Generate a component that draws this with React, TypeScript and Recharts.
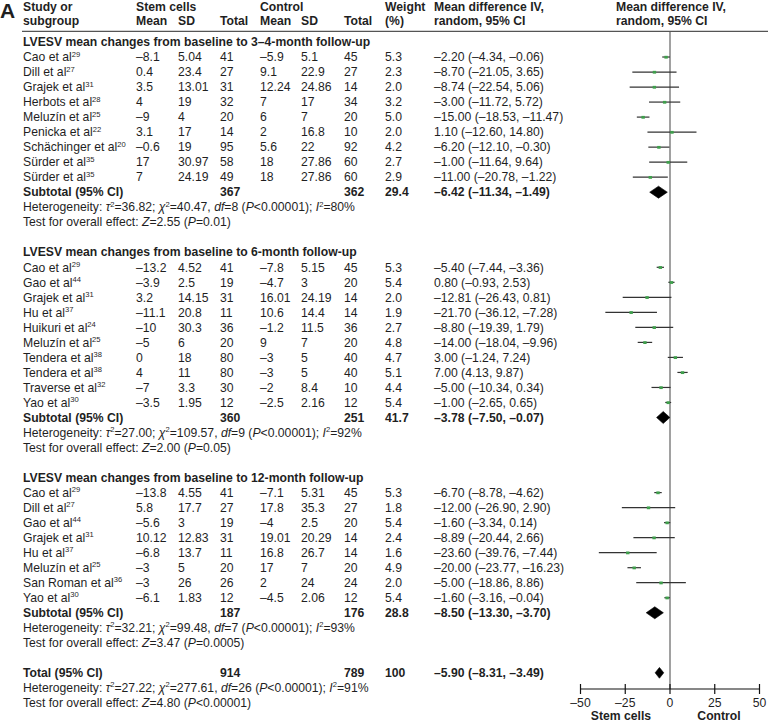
import React from 'react';
import { ScatterChart, Scatter, XAxis, YAxis, ReferenceLine, ErrorBar } from 'recharts';

// ---------------- DATA ----------------
const sectionTitles = [
  'LVESV mean changes from baseline to 3–4-month follow-up',
  'LVESV mean changes from baseline to 6-month follow-up',
  'LVESV mean changes from baseline to 12-month follow-up',
];

// Section 1: 3–4-month
const names1 = ['Cao et al', 'Dill et al', 'Grajek et al', 'Herbots et al', 'Meluzín et al', 'Penicka et al', 'Schächinger et al', 'Sürder et al', 'Sürder et al'];
const refs1 = [29, 27, 31, 28, 25, 22, 20, 35, 35];
const stemMean1 = [-8.1, 0.4, 3.5, 4, -9, 3.1, -0.6, 17, 7];
const stemSD1 = [5.04, 23.4, 13.01, 19, 4, 17, 19, 30.97, 24.19];
const stemN1 = [41, 27, 31, 32, 20, 14, 95, 58, 49];
const ctrlMean1 = [-5.9, 9.1, 12.24, 7, 6, 2, 5.6, 18, 18];
const ctrlSD1 = [5.1, 22.9, 24.86, 17, 7, 16.8, 22, 27.86, 27.86];
const ctrlN1 = [45, 27, 14, 34, 20, 10, 92, 60, 60];
const weight1 = [5.3, 2.3, 2.0, 3.2, 5.0, 2.0, 4.2, 2.7, 2.9];
const md1 = [-2.2, -8.7, -8.74, -3.0, -15.0, 1.1, -6.2, -1.0, -11.0];
const lo1 = [-4.34, -21.05, -22.54, -11.72, -18.53, -12.6, -12.1, -11.64, -20.78];
const hi1 = [-0.06, 3.65, 5.06, 5.72, -11.47, 14.8, -0.3, 9.64, -1.22];

// Section 2: 6-month
const names2 = ['Cao et al', 'Gao et al', 'Grajek et al', 'Hu et al', 'Huikuri et al', 'Meluzín et al', 'Tendera et al', 'Tendera et al', 'Traverse et al', 'Yao et al'];
const refs2 = [29, 44, 31, 37, 24, 25, 38, 38, 32, 30];
const stemMean2 = [-13.2, -3.9, 3.2, -11.1, -10, -5, 0, 4, -7, -3.5];
const stemSD2 = [4.52, 2.5, 14.15, 20.8, 30.3, 6, 18, 11, 3.3, 1.95];
const stemN2 = [41, 19, 31, 11, 36, 20, 80, 80, 30, 12];
const ctrlMean2 = [-7.8, -4.7, 16.01, 10.6, -1.2, 9, -3, -3, -2, -2.5];
const ctrlSD2 = [5.15, 3, 24.19, 14.4, 11.5, 7, 5, 5, 8.4, 2.16];
const ctrlN2 = [45, 20, 14, 14, 36, 20, 40, 40, 10, 12];
const weight2 = [5.3, 5.4, 2.0, 1.9, 2.7, 4.8, 4.7, 5.1, 4.4, 5.4];
const md2 = [-5.4, 0.8, -12.81, -21.7, -8.8, -14.0, 3.0, 7.0, -5.0, -1.0];
const lo2 = [-7.44, -0.93, -26.43, -36.12, -19.39, -18.04, -1.24, 4.13, -10.34, -2.65];
const hi2 = [-3.36, 2.53, 0.81, -7.28, 1.79, -9.96, 7.24, 9.87, 0.34, 0.65];

// Section 3: 12-month
const names3 = ['Cao et al', 'Dill et al', 'Gao et al', 'Grajek et al', 'Hu et al', 'Meluzín et al', 'San Roman et al', 'Yao et al'];
const refs3 = [29, 27, 44, 31, 37, 25, 36, 30];
const stemMean3 = [-13.8, 5.8, -5.6, 10.12, -6.8, -3, -3, -6.1];
const stemSD3 = [4.55, 17.7, 3, 12.83, 13.7, 5, 26, 1.83];
const stemN3 = [41, 27, 19, 31, 11, 20, 26, 12];
const ctrlMean3 = [-7.1, 17.8, -4, 19.01, 16.8, 17, 2, -4.5];
const ctrlSD3 = [5.31, 35.3, 2.5, 20.29, 26.7, 7, 24, 2.06];
const ctrlN3 = [45, 27, 20, 14, 14, 20, 24, 12];
const weight3 = [5.3, 1.8, 5.4, 2.4, 1.6, 4.9, 2.0, 5.4];
const md3 = [-6.7, -12.0, -1.6, -8.89, -23.6, -20.0, -5.0, -1.6];
const lo3 = [-8.78, -26.9, -3.34, -20.44, -39.76, -23.77, -18.86, -3.16];
const hi3 = [-4.62, 2.9, 0.14, 2.66, -7.44, -16.23, 8.86, -0.04];

// Subtotals
const subStemN = [367, 360, 187];
const subCtrlN = [362, 251, 176];
const subWeight = [29.4, 41.7, 28.8];
const subMd = [-6.42, -3.78, -8.5];
const subLo = [-11.34, -7.5, -13.3];
const subHi = [-1.49, -0.07, -3.7];
const hetTau = ['36.82', '27.00', '32.21'];
const hetChi = ['40.47', '109.57', '99.48'];
const hetDf = [8, 9, 7];
const hetI2 = [80, 92, 93];
const testZ = ['2.55', '2.00', '3.47'];
const testP = ['=0.01', '=0.05', '=0.0005'];

// Overall total
const totalStemN = 914;
const totalCtrlN = 789;
const totalWeight = 100;
const totalMd = -5.9;
const totalLo = -8.31;
const totalHi = -3.49;
const totalTau = '27.22';
const totalChi = '277.61';
const totalDf = 26;
const totalI2 = 91;
const totalZ = '4.80';
const totalP = '<0.00001';

const xTicks = [-50, -25, 0, 25, 50];

// ---------------- LAYOUT ----------------
const FONT = '"Liberation Sans", Arial, Helvetica, sans-serif';
const FS = 12.2;
const TXT = '#1f1f1f';
const ROW0 = 42;
const ROWH = 15.02;
const rowY = (i: number) => ROW0 + ROWH * i;
const COL = { name: 23, sm: 136, ssd: 178, sn: 220, cm: 260, csd: 301, cn: 344, w: 385, md: 434, plot: 616 };

const fmt = (n: number) => String(n).replace('-', '–');
const f2 = (n: number) => n.toFixed(2).replace('-', '–');
const ci = (m: number, l: number, h: number) => `${f2(m)} (${f2(l)}, ${f2(h)})`;

type Study = {
  name: string; ref: number; sm: number; ssd: number; sn: number; cm: number; csd: number; cn: number;
  w: number; md: number; lo: number; hi: number;
};

const build = (names: string[], refs: number[], sm: number[], ssd: number[], sn: number[], cm: number[], csd: number[], cn: number[], w: number[], md: number[], lo: number[], hi: number[]): Study[] =>
  names.map((name, k) => ({ name, ref: refs[k], sm: sm[k], ssd: ssd[k], sn: sn[k], cm: cm[k], csd: csd[k], cn: cn[k], w: w[k], md: md[k], lo: lo[k], hi: hi[k] }));

const sections = [
  build(names1, refs1, stemMean1, stemSD1, stemN1, ctrlMean1, ctrlSD1, ctrlN1, weight1, md1, lo1, hi1),
  build(names2, refs2, stemMean2, stemSD2, stemN2, ctrlMean2, ctrlSD2, ctrlN2, weight2, md2, lo2, hi2),
  build(names3, refs3, stemMean3, stemSD3, stemN3, ctrlMean3, ctrlSD3, ctrlN3, weight3, md3, lo3, hi3),
];

// row starts
const sectionStart: number[] = [];
{
  let r = 0;
  sections.forEach((s) => {
    sectionStart.push(r);
    r += 1 + s.length + 3 + 1;
  });
}
const totalRow = sectionStart[2] + 1 + sections[2].length + 3 + 1;

// chart data
const studyPoints = sections.flatMap((s, si) =>
  s.map((st, k) => ({ x: st.md, y: sectionStart[si] + 1 + k, err: [st.md - st.lo, st.hi - st.md] }))
);

const diamondVerts = (m: number, l: number, h: number, row: number, half: number) => [
  { x: l, y: row },
  { x: m, y: row - half },
  { x: h, y: row },
  { x: m, y: row + half },
];
const diamonds = [
  ...sections.map((s, si) => diamondVerts(subMd[si], subLo[si], subHi[si], sectionStart[si] + 1 + s.length, 0.4)),
  diamondVerts(totalMd, totalLo, totalHi, totalRow, 0.36),
];

// ---------------- TEXT HELPERS ----------------
type Seg = { t: string; i?: boolean; sup?: boolean };

function Rich({ x, y, segs, bold, anchor }: { x: number; y: number; segs: Seg[]; bold?: boolean; anchor?: string }) {
  let raised = false;
  return (
    <text x={x} y={y + 4.2} fontFamily={FONT} fontSize={FS} fill={TXT} fontWeight={bold ? 'bold' : 'normal'} textAnchor={anchor as any} style={{ whiteSpace: 'pre' }}>
      {segs.map((s, k) => {
        let dy: number | undefined;
        if (s.sup && !raised) { dy = -4.6; raised = true; }
        else if (!s.sup && raised) { dy = 4.6; raised = false; }
        return (
          <tspan key={k} dy={dy} fontStyle={s.i ? 'italic' : undefined} fontSize={s.sup ? 7.6 : undefined}>{s.t}</tspan>
        );
      })}
    </text>
  );
}

const T = ({ x, y, children, bold, anchor, size }: any) => (
  <text x={x} y={y + 4.2} fontFamily={FONT} fontSize={size || FS} fill={TXT} fontWeight={bold ? 'bold' : 'normal'} textAnchor={anchor} style={{ whiteSpace: 'pre' }}>
    {children}
  </text>
);

const hetSegs = (tau: string, chi: string, df: number, i2: number): Seg[] => [
  { t: 'Heterogeneity: ' }, { t: 'τ', i: true }, { t: '2', sup: true }, { t: `=${tau}; ` },
  { t: 'χ', i: true }, { t: '2', sup: true }, { t: `=${chi}, ` },
  { t: 'df', i: true }, { t: `=${df} (` }, { t: 'P', i: true }, { t: '<0.00001); ' },
  { t: 'I', i: true }, { t: '2', sup: true }, { t: `=${i2}%` },
];
const testSegs = (z: string, p: string): Seg[] => [
  { t: 'Test for overall effect: ' }, { t: 'Z', i: true }, { t: `=${z} (` }, { t: 'P', i: true }, { t: `${p})` },
];

// ---------------- CHART PARTS ----------------
const GreenMark = (props: any) => {
  const { cx, cy } = props;
  if (cx == null || cy == null) return null;
  return <rect x={cx - 1.7} y={cy - 1.2} width={3.4} height={2.8} fill="#3f9f4c" />;
};

const NoShape = () => null;

const DiamondLine = (props: any) => {
  const pts = props.points || [];
  if (pts.length < 4) return null;
  const d = pts.map((p: any, k: number) => `${k === 0 ? 'M' : 'L'}${p.x},${p.y}`).join(' ') + ' Z';
  return <path d={d} fill="#000" stroke="#000" strokeWidth={0.6} />;
};

const AxisTick = (props: any) => {
  const { x, y, payload } = props;
  return (
    <g>
      <line x1={x} x2={x} y1={y - 10} y2={y} stroke="#111" strokeWidth={1.2} />
      <text x={x} y={y + 12.5} textAnchor="middle" fontFamily={FONT} fontSize={FS} fill={TXT}>{fmt(payload.value)}</text>
    </g>
  );
};

export default function App() {
  const texts: React.ReactNode[] = [];
  sections.forEach((s, si) => {
    const r0 = sectionStart[si];
    texts.push(<T key={`h${si}`} x={COL.name} y={rowY(r0)} bold>{sectionTitles[si]}</T>);
    s.forEach((st, k) => {
      const y = rowY(r0 + 1 + k);
      texts.push(
        <g key={`s${si}-${k}`}>
          <Rich x={COL.name} y={y} segs={[{ t: st.name }, { t: String(st.ref), sup: true }]} />
          <T x={COL.sm} y={y}>{fmt(st.sm)}</T>
          <T x={COL.ssd} y={y}>{fmt(st.ssd)}</T>
          <T x={COL.sn} y={y}>{st.sn}</T>
          <T x={COL.cm} y={y}>{fmt(st.cm)}</T>
          <T x={COL.csd} y={y}>{fmt(st.csd)}</T>
          <T x={COL.cn} y={y}>{st.cn}</T>
          <T x={COL.w} y={y}>{st.w.toFixed(1)}</T>
          <T x={COL.md} y={y}>{ci(st.md, st.lo, st.hi)}</T>
        </g>
      );
    });
    const rs = r0 + 1 + s.length;
    texts.push(
      <g key={`sub${si}`}>
        <T x={COL.name} y={rowY(rs)} bold>Subtotal (95% CI)</T>
        <T x={COL.sn} y={rowY(rs)} bold>{subStemN[si]}</T>
        <T x={COL.cn} y={rowY(rs)} bold>{subCtrlN[si]}</T>
        <T x={COL.w} y={rowY(rs)} bold>{subWeight[si].toFixed(1)}</T>
        <T x={COL.md} y={rowY(rs)} bold>{ci(subMd[si], subLo[si], subHi[si])}</T>
        <Rich x={COL.name} y={rowY(rs + 1)} segs={hetSegs(hetTau[si], hetChi[si], hetDf[si], hetI2[si])} />
        <Rich x={COL.name} y={rowY(rs + 2)} segs={testSegs(testZ[si], testP[si])} />
      </g>
    );
  });
  texts.push(
    <g key="total">
      <T x={COL.name} y={rowY(totalRow)} bold>Total (95% CI)</T>
      <T x={COL.sn} y={rowY(totalRow)} bold>{totalStemN}</T>
      <T x={COL.cn} y={rowY(totalRow)} bold>{totalCtrlN}</T>
      <T x={COL.w} y={rowY(totalRow)} bold>{totalWeight}</T>
      <T x={COL.md} y={rowY(totalRow)} bold>{ci(totalMd, totalLo, totalHi)}</T>
      <Rich x={COL.name} y={rowY(totalRow + 1)} segs={hetSegs(totalTau, totalChi, totalDf, totalI2)} />
      <Rich x={COL.name} y={rowY(totalRow + 2)} segs={testSegs(totalZ, totalP)} />
    </g>
  );

  return (
    <div style={{ position: 'absolute', left: 0, top: 0, width: 768, height: 724, background: '#fff' }}>
      <ScatterChart width={768} height={724} margin={{ top: 31, right: 8.5, bottom: 5, left: 580.5 }}>
        <XAxis
          type="number"
          dataKey="x"
          domain={[-50, 50]}
          ticks={xTicks}
          height={30}
          allowDataOverflow
          axisLine={{ stroke: '#111', strokeWidth: 1.2 }}
          tickLine={false}
          tickSize={5}
          tickMargin={0}
          tick={<AxisTick />}
          interval={0}
        />
        <YAxis type="number" dataKey="y" domain={[-0.732, 43.076]} reversed hide allowDataOverflow />
        <ReferenceLine x={0} stroke="#8a8a8a" strokeWidth={1.6} />
        <Scatter data={studyPoints} shape={<NoShape />} isAnimationActive={false}>
          <ErrorBar dataKey="err" direction="x" width={0} stroke="#333" strokeWidth={1.2} isAnimationActive={false} />
        </Scatter>
        <Scatter data={studyPoints} shape={<GreenMark />} isAnimationActive={false} />
        {diamonds.map((d, k) => (
          <Scatter key={`d${k}`} data={d} shape={<NoShape />} line={DiamondLine} isAnimationActive={false} />
        ))}
      </ScatterChart>
      <svg width={768} height={724} style={{ position: 'absolute', left: 0, top: 0, pointerEvents: 'none' }}>
        <text x={0} y={18} fontFamily={FONT} fontSize={21} fontWeight="bold" fill={TXT}>A</text>
        <T x={COL.name} y={7} bold>Study or</T>
        <T x={COL.name} y={21} bold>subgroup</T>
        <T x={COL.sm} y={7} bold>Stem cells</T>
        <T x={COL.sm} y={21} bold>Mean</T>
        <T x={COL.ssd} y={21} bold>SD</T>
        <T x={COL.sn} y={21} bold>Total</T>
        <T x={COL.cm} y={7} bold>Control</T>
        <T x={COL.cm} y={21} bold>Mean</T>
        <T x={COL.csd} y={21} bold>SD</T>
        <T x={COL.cn} y={21} bold>Total</T>
        <T x={COL.w} y={7} bold>Weight</T>
        <T x={COL.w} y={21} bold>(%)</T>
        <T x={COL.md} y={7} bold>Mean difference IV,</T>
        <T x={COL.md} y={21} bold>random, 95% CI</T>
        <T x={COL.plot} y={7} bold>Mean difference IV,</T>
        <T x={COL.plot} y={21} bold>random, 95% CI</T>
        <line x1={22} x2={768} y1={31.3} y2={31.3} stroke="#555" strokeWidth={1.2} />
        {texts}
        <T x={621} y={715.5} bold anchor="middle">Stem cells</T>
        <T x={719} y={715.5} bold anchor="middle">Control</T>
      </svg>
    </div>
  );
}
